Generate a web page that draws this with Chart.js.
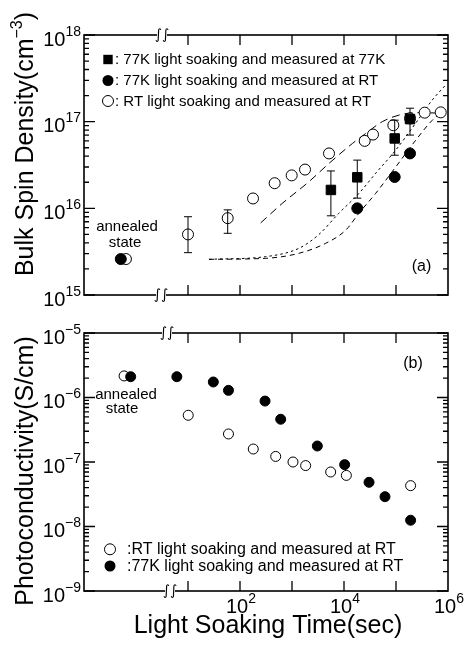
<!DOCTYPE html>
<html><head><meta charset="utf-8">
<script src="https://cdn.jsdelivr.net/npm/chart.js@4.4.1/dist/chart.umd.min.js"></script>
<style>
html,body{margin:0;padding:0;background:#fff;width:466px;height:646px;overflow:hidden}
canvas{position:absolute;left:0}
#c1{top:0}
#c2{top:312px}
</style></head><body>
<canvas id="c1" width="466" height="312"></canvas>
<canvas id="c2" width="466" height="334"></canvas>
<script>
// ===== Panel (a): bulk spin density (cm^-3) vs light soaking time (s) =====
const a_rtTime   = [0.64, 10, 58, 178, 464, 986, 1780, 5150, 25000, 36100, 88800, 186000, 356000, 724000];
const a_rtSpin   = [2.6e15, 5.0e15, 7.7e15, 1.3e16, 1.95e16, 2.4e16, 2.8e16, 4.3e16, 6.0e16, 7.1e16, 9.1e16, 1.09e17, 1.27e17, 1.28e17];
const a_rtErrTime = [10, 58];
const a_rtErrLow  = [3.08e15, 5.15e15];
const a_rtErrHigh = [8.0e15, 9.6e15];

const a_sqTime   = [5600, 18000, 94400, 186000];
const a_sqSpin   = [1.63e16, 2.28e16, 6.4e16, 1.07e17];
const a_sqLow    = [8.2e15, 1.31e16, 4.1e16, 7.0e16];
const a_sqHigh   = [2.7e16, 3.6e16, 1.04e17, 1.43e17];

const a_fcTime   = [0.51, 18000, 94400, 186000];
const a_fcSpin   = [2.6e15, 1.0e16, 2.3e16, 4.3e16];

const a_curveA_t = [250, 650, 2120, 5150, 14500, 26100, 54500, 114000, 239000, 580000];
const a_curveA_y = [6.8e15, 1.14e16, 2.03e16, 3.3e16, 5.6e16, 7.3e16, 1.0e17, 1.19e17, 1.27e17, 1.26e17];
const a_curveB_t = [25.4, 312, 1365, 3300, 8000, 19400, 40700, 98700, 239000, 499000, 904000];
const a_curveB_y = [2.58e15, 2.77e15, 3.46e15, 5.0e15, 8.8e15, 1.49e16, 2.54e16, 4.7e16, 9.6e16, 1.78e17, 2.65e17];
const a_curveC_t = [25.4, 312, 1365, 4450, 10800, 19400, 40700, 98700, 239000, 499000, 776000];
const a_curveC_y = [2.58e15, 2.65e15, 3.03e15, 3.95e15, 5.6e15, 8.8e15, 1.49e16, 3.0e16, 6.1e16, 1.04e17, 1.3e17];

// ===== Panel (b): photoconductivity (S/cm) vs light soaking time (s) =====
const b_rtTime = [0.59, 10.1, 60, 180, 486, 1045, 1830, 5540, 11100, 191000];
const b_rtPc   = [2.16e-6, 5.3e-7, 2.72e-7, 1.59e-7, 1.22e-7, 1.0e-7, 8.8e-8, 7.0e-8, 6.2e-8, 4.3e-8];
const b_lkTime = [0.79, 6.1, 30.7, 60, 303, 606, 3070, 10300, 30300, 61400, 191000];
const b_lkPc   = [2.1e-6, 2.1e-6, 1.74e-6, 1.29e-6, 8.8e-7, 4.6e-7, 1.77e-7, 9.1e-8, 4.84e-8, 2.9e-8, 1.25e-8];

// ===== axes / tick labels =====
const xMajorTicks = [10, 100, 1000, 10000, 100000];
const xLabelValues = [100, 10000, 1000000];
const xLabelExps   = ['2', '4', '6'];
const aYValues = [1e15, 1e16, 1e17, 1e18];
const aYExps   = ['15', '16', '17', '18'];
const bYValues = [1e-9, 1e-8, 1e-7, 1e-6, 1e-5];
const bYExps   = ['\u22129', '\u22128', '\u22127', '\u22126', '\u22125'];

const FONT = '"Liberation Sans", Arial, Helvetica, sans-serif';

function zip(xs, ys) { return xs.map((x, i) => ({x: x, y: ys[i]})); }

function drawRich(ctx, parts, x, y, align) {
  let w = 0;
  parts.forEach(p => { ctx.font = p.size + 'px ' + FONT; p.w = ctx.measureText(p.t).width; w += p.w; });
  let cx = align === 'right' ? x - w : (align === 'center' ? x - w / 2 : x);
  ctx.textAlign = 'left'; ctx.textBaseline = 'alphabetic';
  parts.forEach(p => { ctx.font = p.size + 'px ' + FONT; ctx.fillText(p.t, cx, y - (p.rise || 0)); cx += p.w; });
}
function pow10(exp) { return [{t: '10', size: 20}, {t: exp, size: 14, rise: 10}]; }

function breakMark(ctx, x, y) {
  ctx.save();
  ctx.fillStyle = '#fff';
  ctx.fillRect(x - 5, y - 2, 10, 4);
  ctx.fillStyle = '#000';
  ctx.font = 'italic 14px "DejaVu Sans", sans-serif';
  ctx.textAlign = 'center'; ctx.textBaseline = 'middle';
  ctx.fillText('\u222B\u222B', x, y);
  ctx.restore();
}

function marker(ctx, kind, x, y) {
  ctx.beginPath();
  if (kind === 'square') { ctx.rect(x - 4.7, y - 4.7, 9.4, 9.4); ctx.fill(); }
  else if (kind === 'filled') { ctx.arc(x, y, 5.5, 0, Math.PI * 2); ctx.fill(); }
  else { ctx.arc(x, y, 5.5, 0, Math.PI * 2); ctx.lineWidth = 1; ctx.stroke(); }
}

function decor(cfg) {
  return {
    id: 'decor',
    afterDatasetsDraw(chart) {
      const ctx = chart.ctx, A = chart.chartArea, xs = chart.scales.x, ys = chart.scales.y;
      ctx.save();
      ctx.strokeStyle = '#000'; ctx.fillStyle = '#000';
      // error bars
      ctx.lineWidth = 1;
      (cfg.errorBars || []).forEach(eb => {
        eb.t.forEach((t, i) => {
          const x = xs.getPixelForValue(t);
          const y1 = ys.getPixelForValue(eb.lo[i]), y2 = ys.getPixelForValue(eb.hi[i]);
          ctx.beginPath();
          ctx.moveTo(x, y1); ctx.lineTo(x, y2);
          ctx.moveTo(x - 4, y1); ctx.lineTo(x + 4, y1);
          ctx.moveTo(x - 4, y2); ctx.lineTo(x + 4, y2);
          ctx.stroke();
        });
      });
      // frame
      ctx.lineWidth = 1.6;
      ctx.strokeRect(A.left, A.top, A.right - A.left, A.bottom - A.top);
      // y ticks (inward, both sides)
      ctx.lineWidth = 1.3;
      ctx.beginPath();
      for (let d = cfg.yDecMin; d <= cfg.yDecMax; d++) {
        for (let m = 1; m <= 9; m++) {
          if (d === cfg.yDecMax && m > 1) break;
          const y = ys.getPixelForValue(m * Math.pow(10, d));
          const len = m === 1 ? 11 : 5;
          ctx.moveTo(A.left, y); ctx.lineTo(A.left + len, y);
          ctx.moveTo(A.right, y); ctx.lineTo(A.right - len, y);
        }
      }
      // x ticks (inward, top and bottom)
      xMajorTicks.forEach(v => {
        const x = xs.getPixelForValue(v);
        ctx.moveTo(x, A.top); ctx.lineTo(x, A.top + 10);
        ctx.moveTo(x, A.bottom); ctx.lineTo(x, A.bottom - 10);
      });
      ctx.stroke();
      // break marks
      cfg.breaks.forEach(b => breakMark(ctx, b[0], b[1] === 'top' ? A.top : A.bottom));
      // y tick labels
      ctx.fillStyle = '#000';
      cfg.yValues.forEach((v, i) => {
        const y = ys.getPixelForValue(v);
        drawRich(ctx, pow10(cfg.yExps[i]), A.left - 3, y + 10.5, 'right');
      });
      // x tick labels
      if (cfg.xLabels) {
        xLabelValues.forEach((v, i) => {
          const x = xs.getPixelForValue(v);
          drawRich(ctx, pow10(xLabelExps[i]), x + 1, A.bottom + 22, 'center');
        });
        ctx.font = '25px ' + FONT; ctx.textAlign = 'center'; ctx.textBaseline = 'alphabetic';
        ctx.fillText('Light Soaking Time(sec)', (A.left + A.right) / 2 + 2, A.bottom + 42);
      }
      // y title
      ctx.save();
      ctx.translate(33, cfg.yTitleY);
      ctx.rotate(-Math.PI / 2);
      drawRich(ctx, cfg.yTitle, 0, 0, 'center');
      ctx.restore();
      // panel label
      ctx.font = '16px ' + FONT; ctx.textAlign = 'center'; ctx.textBaseline = 'middle';
      ctx.fillText(cfg.panel[0], cfg.panel[1], cfg.panel[2]);
      // annealed state
      ctx.font = '15px ' + FONT; ctx.textBaseline = 'alphabetic';
      ctx.fillText('annealed', cfg.ann[0], cfg.ann[1]);
      ctx.fillText('state', cfg.ann[2], cfg.ann[3]);
      // legend
      cfg.legend.forEach(l => {
        marker(ctx, l.kind, cfg.legX, l.y);
        ctx.fillStyle = '#000';
        ctx.font = cfg.legSize + 'px ' + FONT; ctx.textAlign = 'left'; ctx.textBaseline = 'middle';
        ctx.fillText(l.text, cfg.legTextX, l.y + 0.5);
      });
      ctx.restore();
    }
  };
}

function curve(t, y, dash) {
  return { data: zip(t, y), showLine: true, pointRadius: 0, borderColor: '#000', borderWidth: 1,
           borderDash: dash, cubicInterpolationMode: 'monotone', fill: false, order: 3 };
}
function pts(t, y, style, fillColor, r, order) {
  return { data: zip(t, y), showLine: false, pointStyle: style, pointRadius: r, pointHoverRadius: r,
           backgroundColor: fillColor, borderColor: '#000', borderWidth: 1, order: order };
}

function baseOptions(yMin, yMax, pad) {
  return {
    responsive: false, animation: false, devicePixelRatio: 1,
    layout: { padding: pad },
    plugins: { legend: { display: false }, tooltip: { enabled: false } },
    scales: {
      x: { type: 'logarithmic', min: 0.1, max: 1e6, display: false },
      y: { type: 'logarithmic', min: yMin, max: yMax, display: false }
    }
  };
}

new Chart(document.getElementById('c1'), {
  type: 'scatter',
  data: { datasets: [
    curve(a_curveA_t, a_curveA_y, [8, 5]),
    curve(a_curveB_t, a_curveB_y, [2.5, 3]),
    curve(a_curveC_t, a_curveC_y, [5, 4]),
    pts(a_rtTime, a_rtSpin, 'circle', '#fff', 5.5, 2),
    pts(a_sqTime, a_sqSpin, 'rect', '#000', 6.7, 1),
    pts(a_fcTime, a_fcSpin, 'circle', '#000', 5.5, 1)
  ]},
  options: baseOptions(1e15, 1e18, { left: 84, right: 18, top: 35, bottom: 17 }),
  plugins: [decor({
    yDecMin: 15, yDecMax: 18, yValues: aYValues, yExps: aYExps, xLabels: false,
    breaks: [[162, 'top'], [161, 'bottom']],
    errorBars: [{ t: a_rtErrTime, lo: a_rtErrLow, hi: a_rtErrHigh }, { t: a_sqTime, lo: a_sqLow, hi: a_sqHigh }],
    yTitle: [{t: 'Bulk Spin Density(cm', size: 25}, {t: '\u22123', size: 16, rise: 11}, {t: ')', size: 25}],
    yTitleY: 144,
    panel: ['(a)', 421.5, 267],
    ann: [127, 231, 125, 246.5],
    legX: 108, legTextX: 115, legSize: 15,
    legend: [
      { kind: 'square', y: 59.5, text: ': 77K light soaking and measured at 77K' },
      { kind: 'filled', y: 80.5, text: ': 77K light soaking and measured at RT' },
      { kind: 'open',   y: 101, text: ': RT light soaking and measured at RT' }
    ]
  })]
});

new Chart(document.getElementById('c2'), {
  type: 'scatter',
  data: { datasets: [
    pts(b_rtTime, b_rtPc, 'circle', '#fff', 5, 2),
    pts(b_lkTime, b_lkPc, 'circle', '#000', 5, 1)
  ]},
  options: baseOptions(1e-9, 1e-5, { left: 84, right: 18, top: 21, bottom: 55 }),
  plugins: [decor({
    yDecMin: -9, yDecMax: -5, yValues: bYValues, yExps: bYExps, xLabels: true,
    breaks: [[167, 'top'], [170, 'bottom']],
    errorBars: [],
    yTitle: [{t: 'Photoconductivity(S/cm)', size: 25}],
    yTitleY: 159,
    panel: ['(b)', 413, 51.5],
    ann: [126, 86.5, 122, 100.7],
    legX: 110, legTextX: 127, legSize: 16,
    legend: [
      { kind: 'open',   y: 237.3, text: ':RT light soaking and measured at RT' },
      { kind: 'filled', y: 254, text: ':77K light soaking and measured at RT' }
    ]
  })]
});
</script>
</body></html>
